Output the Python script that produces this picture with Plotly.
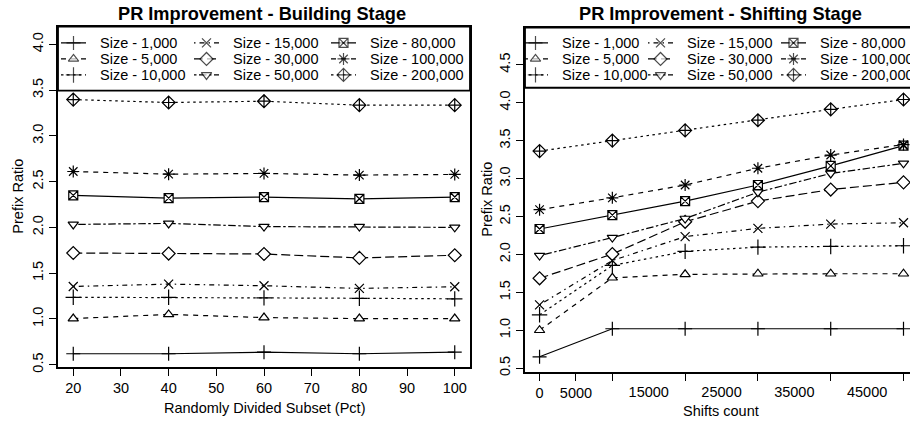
import plotly.graph_objects as go

# ---------------- data ----------------
pct = [20, 40, 60, 80, 100]
shifts = [0, 10000, 20000, 30000, 40000, 50000]
size_labels = ["Size - 1,000", "Size - 5,000", "Size - 10,000", "Size - 15,000",
               "Size - 30,000", "Size - 50,000", "Size - 80,000", "Size - 100,000",
               "Size - 200,000"]

# Building stage (x = pct)
build_1000 = [0.62, 0.62, 0.637, 0.62, 0.637]
build_5000 = [1.004, 1.05, 1.015, 1.004, 1.004]
build_10000 = [1.237, 1.237, 1.23, 1.226, 1.22]
build_15000 = [1.355, 1.381, 1.363, 1.334, 1.352]
build_30000 = [1.721, 1.715, 1.71, 1.667, 1.696]
build_50000 = [2.033, 2.044, 2.009, 2.009, 2.001]
build_80000 = [2.35, 2.321, 2.332, 2.313, 2.332]
build_100000 = [2.611, 2.582, 2.59, 2.572, 2.579]
build_200000 = [3.397, 3.365, 3.379, 3.336, 3.336]

# Shifting stage (x = shifts)
shift_1000 = [0.65, 1.02, 1.02, 1.02, 1.02, 1.02]
shift_5000 = [1.0, 1.692, 1.737, 1.745, 1.745, 1.745]
shift_10000 = [1.204, 1.854, 2.04, 2.096, 2.105, 2.114]
shift_15000 = [1.334, 1.919, 2.235, 2.343, 2.4, 2.417]
shift_30000 = [1.685, 2.005, 2.43, 2.703, 2.855, 2.95]
shift_50000 = [1.984, 2.222, 2.473, 2.82, 3.067, 3.2]
shift_80000 = [2.335, 2.517, 2.703, 2.915, 3.167, 3.435]
shift_100000 = [2.59, 2.746, 2.915, 3.136, 3.31, 3.448]
shift_200000 = [3.362, 3.5, 3.635, 3.769, 3.912, 4.042]

left_yticks = [0.5, 1.0, 1.5, 2.0, 2.5, 3.0, 3.5, 4.0]
right_yticks = [0.5, 1.0, 1.5, 2.0, 2.5, 3.0, 3.5, 4.0, 4.5]
left_xticks = [20, 30, 40, 50, 60, 70, 80, 90, 100]
right_xticks = [0, 5000, 10000, 20000, 30000, 40000, 50000]
right_xtick_text = ["0", "5000", "", "", "", "", ""]
right_xlabels_extra = [15000, 25000, 35000, 45000]
right_xlabels_extra_text = ["15000", "25000", "35000", "45000"]

building = [build_1000, build_5000, build_10000, build_15000, build_30000,
            build_50000, build_80000, build_100000, build_200000]
shifting = [shift_1000, shift_5000, shift_10000, shift_15000, shift_30000,
            shift_50000, shift_80000, shift_100000, shift_200000]

# ---------------- styles ----------------
W, H = 910, 425
FONT = "Liberation Sans, Arial, Helvetica, sans-serif"
TICKF = 14.5
LEGF = 14.5

dashes = ["solid", "5px,5px", "2.5px,3.5px", "1.5px,4px,5px,4px", "9px,4px",
          "2.5px,2.5px,7.5px,2.5px", "solid", "5px,5px", "2.5px,3.5px"]
# (symbol, fill colour)
symbols = [("cross-thin", "black"), ("triangle-up", "white"), ("cross-thin", "black"),
           ("x-thin", "black"), ("diamond", "white"), ("triangle-down", "white"),
           ("square-x", "white"), ("asterisk", "black"), ("diamond-cross", "white")]
msizes = [10, 9, 11, 9, 10, 9, 9, 10, 10]


def px_x(p):
    return p / W


def px_y(p):
    return 1 - p / H


fig = go.Figure()


def add_series(xs, ys, i, xa, ya):
    sym, fill = symbols[i]
    fig.add_trace(go.Scatter(
        x=xs, y=ys, mode="lines+markers", xaxis=xa, yaxis=ya,
        name=size_labels[i], showlegend=False,
        line=dict(color="black", width=1.2, dash=dashes[i]),
        marker=dict(symbol=sym, size=msizes[i], color=fill,
                    line=dict(color="black", width=1.2)),
    ))


for i, ys in enumerate(building):
    add_series(pct, ys, i, "x", "y")
for i, ys in enumerate(shifting):
    add_series(shifts, ys, i, "x2", "y2")

# ---------------- legends (drawn on helper axes in pixel units) ----------------
rows = [43.5, 59.8, 76.0]


def add_legend(xa, ya, text_cols):
    for i, lab in enumerate(size_labels):
        col, row = divmod(i, 3)
        tx = text_cols[col]
        ry = rows[row]
        x0, x1 = tx - 38, tx - 13
        sym, fill = symbols[i]
        fig.add_trace(go.Scatter(
            x=[x0, (x0 + x1) / 2, x1], y=[ry, ry, ry], mode="lines+markers",
            xaxis=xa, yaxis=ya, showlegend=False, hoverinfo="skip",
            line=dict(color="black", width=1.2, dash=dashes[i]),
            marker=dict(symbol=sym, size=[0, msizes[i], 0], color=fill,
                        line=dict(color="black", width=1.2)),
        ))
        fig.add_annotation(x=tx, y=ry, xref=xa, yref=ya, text=lab, showarrow=False,
                           xanchor="left", yanchor="middle", borderpad=0,
                           font=dict(family=FONT, size=LEGF, color="black"))


add_legend("x3", "y3", [99, 232, 369])
add_legend("x5", "y5", [561, 686, 819])

# legend boxes
fig.add_shape(type="rect", xref="paper", yref="paper",
              x0=px_x(58), x1=px_x(470), y0=px_y(92), y1=px_y(27),
              line=dict(color="black", width=1.8), fillcolor="white", layer="below")
fig.add_shape(type="rect", xref="paper", yref="paper",
              x0=px_x(525), x1=1.02, y0=px_y(89), y1=px_y(28),
              line=dict(color="black", width=1.8), fillcolor="white", layer="below")

# dummy trace for extra tick-label axis
fig.add_trace(go.Scatter(x=[right_xlabels_extra[0]], y=[right_yticks[0]], xaxis="x4", yaxis="y2",
                         mode="markers", marker=dict(opacity=0), showlegend=False,
                         hoverinfo="skip"))

axis_common = dict(showgrid=False, zeroline=False, showline=True, linecolor="black",
                   linewidth=1.8, ticks="outside", ticklen=7, tickwidth=1.3,
                   tickcolor="black", tickfont=dict(family=FONT, size=TICKF, color="black"))

fig.update_layout(
    width=W, height=H, margin=dict(l=0, r=0, t=0, b=0),
    paper_bgcolor="white", plot_bgcolor="rgba(0,0,0,0)", showlegend=False,
    xaxis=dict(domain=[px_x(58), px_x(470)], range=[16.8, 103.2], anchor="y",
               tickvals=left_xticks, mirror=True, **axis_common),
    yaxis=dict(domain=[px_y(372), px_y(27)], range=[0.478, 4.194], anchor="x",
               tickvals=left_yticks, ticktext=[f"{v:.1f}" for v in left_yticks],
               tickangle=-90, mirror=True, **axis_common),
    xaxis2=dict(domain=[px_x(525), 1.0], range=[-2000, 50893], anchor="y2",
                tickvals=right_xticks, ticktext=right_xtick_text, mirror=True, **axis_common),
    yaxis2=dict(domain=[px_y(377.3), px_y(28)], range=[0.45, 4.99], anchor="x2",
                tickvals=right_yticks, ticktext=[f"{v:.1f}" for v in right_yticks],
                tickangle=-90, mirror=False, **axis_common),
    xaxis4=dict(overlaying="x2", range=[-2000, 50893], anchor="y2", side="bottom",
                tickvals=right_xlabels_extra, ticktext=right_xlabels_extra_text,
                ticks="outside", ticklen=7, tickcolor="rgba(0,0,0,0)", showline=False,
                showgrid=False, zeroline=False,
                tickfont=dict(family=FONT, size=TICKF, color="black")),
    xaxis3=dict(domain=[px_x(58), px_x(470)], range=[58, 470], visible=False,
                anchor="y3", fixedrange=True),
    yaxis3=dict(domain=[px_y(92), px_y(27)], range=[92, 27], visible=False,
                anchor="x3", fixedrange=True),
    xaxis5=dict(domain=[px_x(525), 1.0], range=[525, 910], visible=False,
                anchor="y5", fixedrange=True),
    yaxis5=dict(domain=[px_y(89), px_y(28)], range=[89, 28], visible=False,
                anchor="x5", fixedrange=True),
)

# titles and axis titles
ann = [
    dict(text="<b>PR Improvement - Building Stage</b>", x=px_x(262), y=px_y(14), size=18.2),
    dict(text="<b>PR Improvement - Shifting Stage</b>", x=px_x(720), y=px_y(14), size=18.2),
    dict(text="Randomly Divided Subset (Pct)", x=px_x(264), y=px_y(414), size=TICKF),
    dict(text="Shifts count", x=px_x(721), y=px_y(416.5), size=TICKF),
]
for a in ann:
    fig.add_annotation(text=a["text"], x=a["x"], y=a["y"], xref="paper", yref="paper",
                       showarrow=False, xanchor="center", yanchor="middle",
                       font=dict(family=FONT, size=a["size"], color="black"))
for xc, yc in [(18, 199.5), (487, 202.6)]:
    fig.add_annotation(text="Prefix Ratio", x=px_x(xc), y=px_y(yc), xref="paper", yref="paper",
                       showarrow=False, textangle=-90, xanchor="center", yanchor="middle",
                       font=dict(family=FONT, size=TICKF, color="black"))

fig.write_html(
    "out.html",
    config={"displayModeBar": False},
    post_script="document.body.style.margin='0px';document.body.style.overflow='hidden';",
)
